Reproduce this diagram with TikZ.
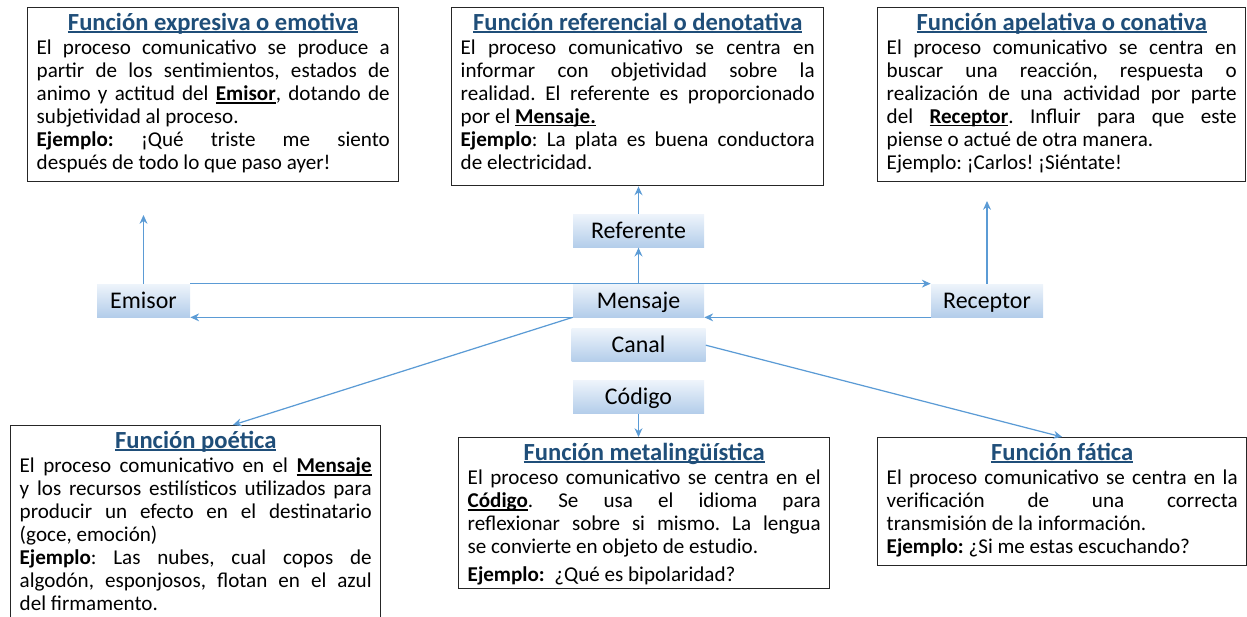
\documentclass[tikz,border=0pt]{standalone}
\usepackage{fontspec}
\setmainfont{Carlito}
\usetikzlibrary{positioning,arrows.meta,calc}
\definecolor{titleblue}{HTML}{1F4E79}
\definecolor{arrowblue}{HTML}{5B9BD5}
\definecolor{nodetop}{HTML}{EEF4FB}
\definecolor{nodebottom}{HTML}{B3CDEA}
\frenchspacing
\newcommand{\subrayar}[1]{\leavevmode\setbox0=\hbox{#1}\rlap{\rule[-0.13em]{\wd0}{0.07em}}\box0}
\newcommand{\subr}[1]{\subrayar{\textbf{#1}}}
\newcommand{\funcion}[4]{\parbox[t][#2][t]{#1}{\fontsize{12}{13.05}\selectfont
  {\centering\fontsize{14}{15.5}\selectfont\bfseries\color{titleblue}\subrayar{#3}\par}\vspace{0.04cm}#4}}
\tikzset{
        % Function boxes
        node_func/.style={rectangle, draw=black!85, line width=0.8pt, fill=white, anchor=north west, inner xsep=0.18cm, inner ysep=0.1cm},
        % Elements of the communication
        node_elem/.style={rectangle, top color=nodetop, bottom color=nodebottom, minimum width=2.62cm, minimum height=0.66cm, inner sep=0pt, text height=10pt, text depth=1.2pt, font=\fontsize{13.6}{16}\selectfont},
        % Connectors
        conn/.style={draw=arrowblue, line width=0.7pt, -{Stealth[length=5pt,width=4.5pt]}}
}
\begin{document}
\begin{tikzpicture}
            \useasboundingbox (0,0) rectangle (24.94,-12.32);
            % Elements
            \node[node_elem, minimum width=1.86cm] (emisor) at (2.87,-6.01) {Emisor};
            \node[node_elem] (mensaje) at (12.77,-6.01) {Mensaje};
            \node[node_elem, minimum width=2.24cm] (receptor) at (19.74,-6.01) {Receptor};
            \node[node_elem, above=0.72cm of mensaje] (referente) {Referente};
            \node[node_elem, minimum width=2.68cm, below=0.22cm of mensaje] (canal) {Canal};
            \node[node_elem, below=0.36cm of canal] (codigo) {Código};
            % Functions
            \node[node_func] (expresiva) at (0.54,-0.14) {\funcion{7.06cm}{3.28cm}{Función expresiva o emotiva}{%
                El proceso comunicativo se produce a\linebreak partir de los sentimientos, estados de\linebreak
                animo y actitud del \subr{Emisor}, dotando de\linebreak subjetividad al proceso.\par
                \textbf{Ejemplo:} ¡Qué triste me siento\linebreak después de todo lo que paso ayer!}};
            \node[node_func] (referencial) at (9.02,-0.14) {\funcion{7.08cm}{3.36cm}{Función referencial o denotativa}{%
                El proceso comunicativo se centra en\linebreak informar con objetividad sobre la\linebreak
                realidad. El referente es proporcionado\linebreak por el \subr{Mensaje.}\par
                \textbf{Ejemplo}: La plata es buena conductora\linebreak de electricidad.}};
            \node[node_func] (apelativa) at (17.54,-0.14) {\funcion{7.00cm}{3.28cm}{Función apelativa o conativa}{%
                El proceso comunicativo se centra en\linebreak buscar una reacción, respuesta o\linebreak
                realización de una actividad por parte\linebreak del \subr{Receptor}. Influir para que este\linebreak
                piense o actué de otra manera.\par
                Ejemplo: ¡Carlos! ¡Siéntate!}};
            \node[node_func] (poetica) at (0.20,-8.50) {\funcion{7.04cm}{4.20cm}{Función poética}{%
                El proceso comunicativo en el \subr{Mensaje}\linebreak y los recursos estilísticos utilizados para\linebreak
                producir un efecto en el destinatario\linebreak (goce, emoción)\par
                \textbf{Ejemplo}: Las nubes, cual copos de\linebreak algodón, esponjosos, flotan en el azul\linebreak
                del firmamento.}};
            \node[node_func] (metalinguistica) at (9.16,-8.74) {\funcion{7.06cm}{2.82cm}{Función metalingüística}{%
                El proceso comunicativo se centra en el\linebreak \subr{Código}. Se usa el idioma para\linebreak
                reflexionar sobre si mismo. La lengua\linebreak se convierte en objeto de estudio.\par\vspace{0.1cm}
                \textbf{Ejemplo:}\ \ ¿Qué es bipolaridad?}};
            \node[node_func] (fatica) at (17.54,-8.74) {\funcion{7.02cm}{2.36cm}{Función fática}{%
                El proceso comunicativo se centra en la\linebreak verificación de una correcta\linebreak
                transmisión de la información.\par
                \textbf{Ejemplo:} ¿Si me estas escuchando?}};
            % Connectors
            \coordinate (emisor_up) at (2.87,-4.30);
            \coordinate (receptor_up) at (19.74,-4.02);
            \draw[conn] (emisor.north) -- (emisor_up);
            \draw[conn] (receptor.north) -- (receptor_up);
            \draw[conn] (mensaje.north) -- (referente.south);
            \draw[conn] (referente.north) -- (referente.north |- referencial.south);
            \draw[conn] (emisor.north east) -- (receptor.north west);
            \draw[conn] (receptor.south west) -- (mensaje.south east);
            \draw[conn] (mensaje.south west) -- (emisor.south east);
            \draw[conn] (mensaje.south west) -- ($(poetica.north west)!0.6!(poetica.north east)$);
            \draw[conn] (canal.east) -- (fatica.north);
            \draw[conn] (codigo.south) -- (codigo.south |- metalinguistica.north);
\end{tikzpicture}
\end{document}
